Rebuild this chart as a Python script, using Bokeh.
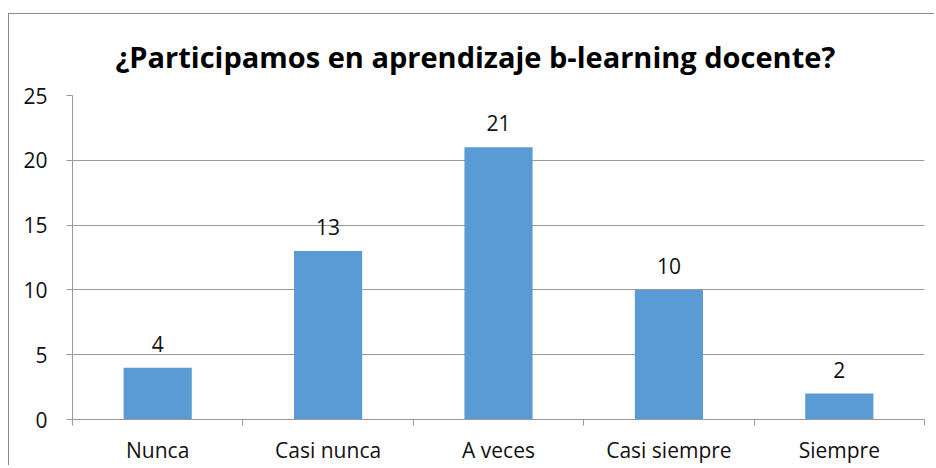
from bokeh.plotting import figure
from bokeh.models import ColumnDataSource, FixedTicker, LabelSet, Range1d
from bokeh.core.properties import value
from bokeh.embed import file_html
from bokeh.resources import INLINE

categories = ["Nunca", "Casi nunca", "A veces", "Casi siempre", "Siempre"]
values = [4, 13, 21, 10, 2]
y_ticks = [0, 5, 10, 15, 20, 25]
title_text = "¿Participamos  en aprendizaje b-learning docente?"

xs = [i + 0.5 for i in range(len(categories))]
src = ColumnDataSource(dict(x=xs, top=values, lbl=[str(v) for v in values]))

FONT = "Open Sans"
GRAY = "#9a9a9a"
TXT = "#111111"

p = figure(width=926, height=452, output_backend="svg", toolbar_location=None,
           x_range=Range1d(0, len(categories)), y_range=Range1d(0, 25),
           min_border_left=63, min_border_right=11, min_border_top=81, min_border_bottom=46,
           title=title_text)
p.margin = (13, 0, 0, 8)
p.styles = {"border-top": "1px solid #8a8a8a", "border-left": "1px solid #8a8a8a"}
p.outline_line_color = None
p.background_fill_color = "white"
p.border_fill_color = "white"

p.title.text_font = FONT
p.title.text_font_style = "bold"
p.title.text_font_size = "29px"
p.title.text_color = "#000000"
p.title.align = "left"
p.title.offset = 43
p.title.standoff = 39

p.vbar(x="x", top="top", width=0.4, bottom=0, source=src, fill_color="#5B9BD5", line_color=None)

labels = LabelSet(x="x", y="top", text="lbl", source=src, text_align="center",
                  text_baseline="alphabetic", y_offset=16, text_font_size="21px",
                  text_color=TXT, text_font=value(FONT))
p.add_layout(labels)

xax = p.xaxis[0]
xax.ticker = FixedTicker(ticks=xs, minor_ticks=list(range(len(categories) + 1)))
xax.major_label_overrides = {x: c for x, c in zip(xs, categories)}
xax.major_tick_line_color = None
xax.minor_tick_line_color = GRAY
xax.minor_tick_out = 6
xax.minor_tick_in = 0
xax.axis_line_color = GRAY
xax.major_label_text_font = FONT
xax.major_label_text_font_size = "21px"
xax.major_label_text_color = TXT
xax.major_label_standoff = 10

yax = p.yaxis[0]
yax.ticker = FixedTicker(ticks=y_ticks)
yax.axis_line_color = GRAY
yax.major_tick_line_color = GRAY
yax.major_tick_out = 6
yax.major_tick_in = 0
yax.minor_tick_line_color = None
yax.major_label_text_font = FONT
yax.major_label_text_font_size = "21px"
yax.major_label_text_color = TXT
yax.major_label_standoff = 19

p.xgrid.grid_line_color = None
p.ygrid.ticker = FixedTicker(ticks=y_ticks)
p.ygrid.grid_line_color = GRAY

open("out.html", "w").write(file_html(p, INLINE))
